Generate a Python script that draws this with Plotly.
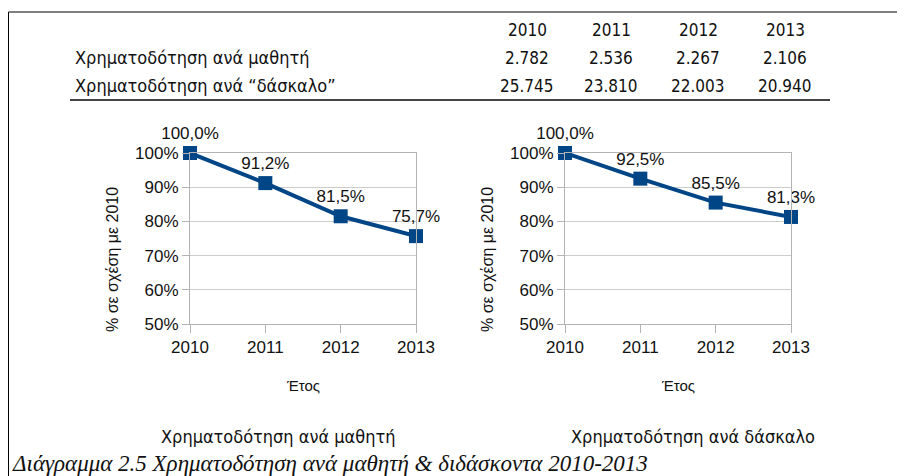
import plotly.graph_objects as go

# page is rendered with an 8px body margin: figure occupies page pixels 8..905 / 8..476
OFF = 8
W, H = 905 - OFF, 476 - OFF

years = [2010, 2011, 2012, 2013]
per_student = ["2.782", "2.536", "2.267", "2.106"]
per_teacher = ["25.745", "23.810", "22.003", "20.940"]
row_labels = ["Χρηματοδότηση ανά μαθητή", "Χρηματοδότηση ανά “δάσκαλο”"]

pct_student = [100.0, 91.2, 81.5, 75.7]
pct_teacher = [100.0, 92.5, 85.5, 81.3]
y_ticks = [50, 60, 70, 80, 90, 100]

chart_titles = ["Χρηματοδότηση ανά μαθητή", "Χρηματοδότηση ανά δάσκαλο"]
caption = "Διάγραμμα 2.5 Χρηματοδότηση ανά μαθητή & διδάσκοντα 2010-2013"
y_title = "% σε σχέση με 2010"
x_title = "Έτος"

BLUE = "#004586"
CHART_FONT = "Liberation Sans, Arial, sans-serif"
TABLE_FONT = "DejaVu Sans Condensed, DejaVu Sans, sans-serif"


def px(x):
    return (x - OFF) / W


def py(y):
    return 1 - (y - OFF) / H


fig = go.Figure()

panels = [
    dict(vals=pct_student, x0=190, x1=416, xa="x", ya="y"),
    dict(vals=pct_teacher, x0=565, x1=791, xa="x2", ya="y2"),
]

layout = dict(
    template="none",
    width=W, height=H,
    margin=dict(l=0, r=0, t=0, b=0, pad=0, autoexpand=False),
    paper_bgcolor="white", plot_bgcolor="white",
    showlegend=False,
    font=dict(family=CHART_FONT, color="#111"),
)

annotations = []
shapes = []

for i, p in enumerate(panels):
    labels = [f"{v:.1f}%".replace(".", ",") for v in p["vals"]]
    fig.add_trace(go.Scatter(
        x=years, y=p["vals"], mode="lines+markers+text",
        text=labels, textposition="top center",
        textfont=dict(size=17, family=CHART_FONT, color="#111"),
        line=dict(color=BLUE, width=4),
        marker=dict(symbol="square", size=14, color=BLUE),
        cliponaxis=False,
        xaxis=p["xa"], yaxis=p["ya"], hoverinfo="skip",
    ))
    sfx = "" if i == 0 else "2"
    layout["xaxis" + sfx] = dict(
        domain=[px(p["x0"]), px(p["x1"])], range=[2010, 2013],
        tickvals=years, ticktext=[str(y) for y in years],
        ticks="outside", ticklen=8, tickcolor="#b3b3b3", tickwidth=1,
        showline=True, linecolor="#b3b3b3", linewidth=1, mirror=True,
        showgrid=False, zeroline=False, automargin=False,
        tickfont=dict(size=17, family=CHART_FONT, color="#111"),
        anchor="y" + sfx, fixedrange=True,
    )
    layout["yaxis" + sfx] = dict(
        domain=[py(324), py(153)], range=[50, 100],
        tickvals=y_ticks, ticktext=[f"{v}%" for v in y_ticks],
        ticks="outside", ticklen=7, tickcolor="#b3b3b3", tickwidth=1,
        showline=True, linecolor="#b3b3b3", linewidth=1, mirror=True,
        showgrid=True, gridcolor="#cccccc", gridwidth=1, zeroline=False,
        automargin=False,
        tickfont=dict(size=17, family=CHART_FONT, color="#111"),
        anchor="x" + sfx, fixedrange=True,
    )
    cx = (p["x0"] + p["x1"]) / 2
    annotations.append(dict(
        x=px(cx), y=py(385), xref="paper", yref="paper", text=x_title,
        showarrow=False, font=dict(size=15, family=CHART_FONT, color="#111"),
        xanchor="center", yanchor="middle",
    ))
    annotations.append(dict(
        x=px(p["x0"] - 78), y=py(260), xref="paper", yref="paper", text=y_title,
        textangle=-90, showarrow=False,
        font=dict(size=16, family=CHART_FONT, color="#111"),
        xanchor="center", yanchor="middle",
    ))

# titles under the two charts
for cx, t in zip([278, 693], chart_titles):
    annotations.append(dict(
        x=px(cx), y=py(436), xref="paper", yref="paper", text=t,
        showarrow=False, font=dict(size=18, family=TABLE_FONT, color="#111"),
        xanchor="center", yanchor="middle",
    ))

# table
col_x = [527, 611, 698, 785]
for cx, yr in zip(col_x, years):
    annotations.append(dict(x=px(cx), y=py(30), xref="paper", yref="paper",
                            text=str(yr), showarrow=False,
                            font=dict(size=17, family=TABLE_FONT, color="#111"),
                            xanchor="center", yanchor="middle"))
for row_y, lab, vals in zip([58, 86], row_labels, [per_student, per_teacher]):
    annotations.append(dict(x=px(73), y=py(row_y), xref="paper", yref="paper",
                            text=lab, showarrow=False,
                            font=dict(size=18, family=TABLE_FONT, color="#111"),
                            xanchor="left", yanchor="middle"))
    for cx, v in zip(col_x, vals):
        annotations.append(dict(x=px(cx), y=py(row_y), xref="paper", yref="paper",
                                text=v, showarrow=False,
                                font=dict(size=17, family=TABLE_FONT, color="#111"),
                                xanchor="center", yanchor="middle"))

shapes.append(dict(type="line", xref="paper", yref="paper",
                   x0=px(70), x1=px(830), y0=py(100), y1=py(100),
                   line=dict(color="#444", width=2)))
# frame border (top and left)
shapes.append(dict(type="line", xref="paper", yref="paper",
                   x0=0.5 / W, x1=1, y0=py(12), y1=py(12),
                   line=dict(color="#000", width=1)))
shapes.append(dict(type="line", xref="paper", yref="paper",
                   x0=0.5 / W, x1=0.5 / W, y0=py(12), y1=0,
                   line=dict(color="#000", width=1)))

annotations.append(dict(x=px(10), y=py(463), xref="paper", yref="paper",
                        text="<i>" + caption + "</i>", showarrow=False,
                        font=dict(size=23, family="Liberation Serif, Times New Roman, serif",
                                  color="#111"),
                        xanchor="left", yanchor="middle"))

layout["annotations"] = annotations
layout["shapes"] = shapes
fig.update_layout(**layout)
fig.write_html("out.html")
